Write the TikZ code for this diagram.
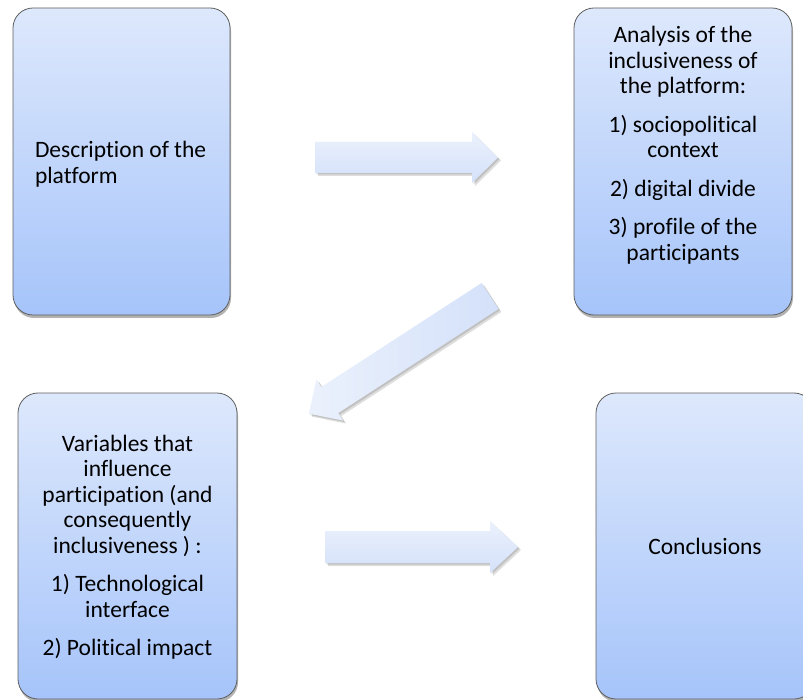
\documentclass[tikz,border=0pt]{standalone}
\usepackage{fontspec}
\setmainfont{Carlito}[Ligatures={NoCommon}]
\usetikzlibrary{shadows}
\definecolor{boxtop}{HTML}{DDE8FC}
\definecolor{boxbot}{HTML}{A6C4FA}
\definecolor{arrtop}{HTML}{EBF1FC}
\definecolor{arrbot}{HTML}{D4E1FA}
\definecolor{boxline}{HTML}{5F5F5F}
% block arrow outline: length, head length, shaft width, head width
\newcommand\blkarrowpoly[4]{(0,-#3/2) -- (#1-#2,-#3/2) -- (#1-#2,-#4/2) -- (#1,0) -- (#1-#2,#4/2) -- (#1-#2,#3/2) -- (0,#3/2) -- cycle}
\begin{document}
\begin{tikzpicture}[x=1pt,y=-1pt,
  blockbox/.style={rectangle, rounded corners=20pt, draw=boxline, line width=0.8pt,
    top color=boxtop, bottom color=boxbot, inner sep=0pt,
    drop shadow={shadow xshift=1pt, shadow yshift=-3pt, opacity=0.3, fill=black}},
  arrowbody/.style={top color=arrtop, bottom color=arrbot, draw=none},
  arrowdiag/.style={left color=arrtop, right color=arrbot, draw=none},
  arrowshade/.style={fill=black, opacity=0.13, draw=none},
  txt/.style={font=\fontsize{23.5}{25.5}\selectfont}]
\useasboundingbox (0,0) rectangle (803,700);
\fill[white] (0,0) rectangle (803,700);
\clip (0,0) rectangle (803,700);

\node[blockbox, txt] (b1) at (121.5,161.5)
  {\parbox[c][307pt][t]{217pt}{\raggedright\leftskip=22pt\relax\vspace*{130pt}\rule{0pt}{20pt}Description of the\\ platform}};

\node[blockbox, txt] (b2) at (683,161.5)
  {\parbox[c][307pt][t]{218pt}{\centering\vspace*{14.7pt}\rule{0pt}{20pt}Analysis of the\\ inclusiveness of\\ the platform:\\[13pt] 1) sociopolitical\\ context\\[13pt] 2) digital divide\\[13pt] 3) profile of the\\ participants}};

\node[blockbox, txt] (b3) at (127.5,546)
  {\parbox[c][306pt][t]{219pt}{\centering\vspace*{38pt}\rule{0pt}{20pt}Variables that\\ influence\\ participation (and\\ consequently\\ inclusiveness ) :\\[13pt] 1) Technological\\ interface\\[13pt] 2) Political impact}};

\node[blockbox, txt] (b4) at (705,546)
  {\parbox[c][306pt][t]{218pt}{\centering\vspace*{141pt}\rule{0pt}{20pt}Conclusions}};

% arrow tails
\coordinate (a1) at (315,157.5);
\coordinate (a2) at (490,296);
\coordinate (a3) at (325,547);

% arrow 1: platform description -> analysis
\begin{scope}[shift={(a1)}, xshift=3pt, yshift=-3pt]
  \fill[arrowshade] \blkarrowpoly{183}{26}{31}{51};
\end{scope}
\begin{scope}[shift={(a1)}, xshift=1.5pt, yshift=-1.5pt]
  \fill[arrowshade] \blkarrowpoly{183}{26}{31}{51};
\end{scope}
\begin{scope}[shift={(a1)}]
  \shade[arrowbody] \blkarrowpoly{183}{26}{31}{51};
\end{scope}

% arrow 2: analysis -> variables
\begin{scope}[shift={(a2)}, xshift=3pt, yshift=-3pt, rotate=213]
  \fill[arrowshade] \blkarrowpoly{216}{25}{31}{49};
\end{scope}
\begin{scope}[shift={(a2)}, xshift=1.5pt, yshift=-1.5pt, rotate=213]
  \fill[arrowshade] \blkarrowpoly{216}{25}{31}{49};
\end{scope}
\begin{scope}[shift={(a2)}, rotate=213]
  \shade[arrowdiag] \blkarrowpoly{216}{25}{31}{49};
\end{scope}

% arrow 3: variables -> conclusions
\begin{scope}[shift={(a3)}, xshift=3pt, yshift=-3pt]
  \fill[arrowshade] \blkarrowpoly{193}{28}{32}{52};
\end{scope}
\begin{scope}[shift={(a3)}, xshift=1.5pt, yshift=-1.5pt]
  \fill[arrowshade] \blkarrowpoly{193}{28}{32}{52};
\end{scope}
\begin{scope}[shift={(a3)}]
  \shade[arrowbody] \blkarrowpoly{193}{28}{32}{52};
\end{scope}
\end{tikzpicture}
\end{document}
